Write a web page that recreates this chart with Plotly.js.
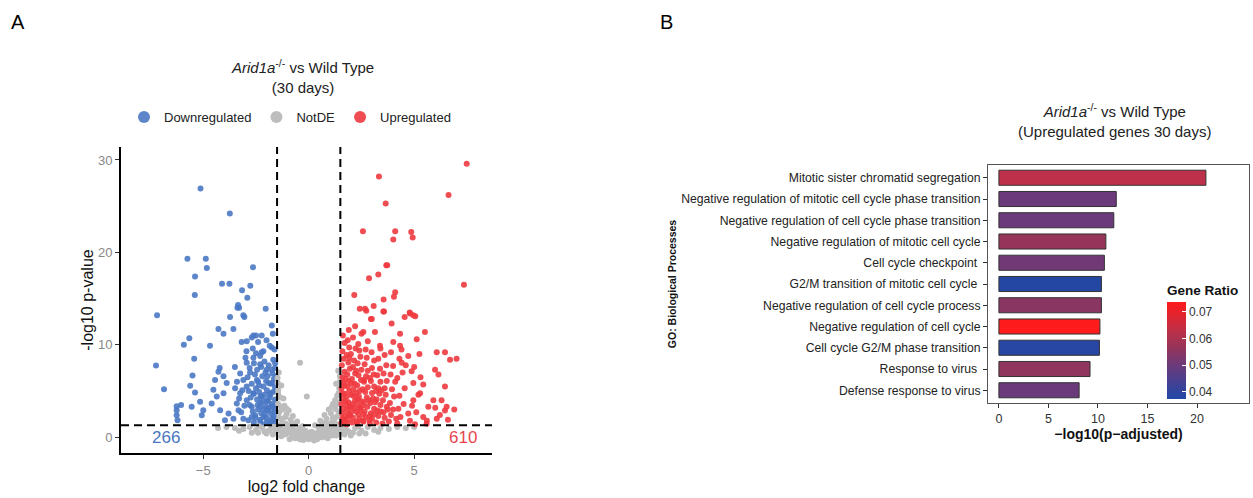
<!DOCTYPE html>
<html>
<head>
<meta charset="utf-8">
<script src="https://cdn.plot.ly/plotly-3.0.1.min.js"></script>
<style>html,body{margin:0;padding:0;background:#fff;}#chart{width:1253px;height:498px;}</style>
</head>
<body>
<div id="chart"></div>
<script>
// ---------- Panel A: volcano plot data ----------
var downX = [-5.13,-3.74,-5.75,-4.88,-4.83,-2.64,-5.39,-4.11,-3.76,-2.77,-3.16,-5.4,-2.91,-3.35,-3.3,-2.04,-7.19,-3.73,-3.05,
  -7.24,-6.86,-6.26,-6.26,-6.26,-6.22,-6.05,-5.92,-5.66,-5.43,-5.51,-5.62,-5.39,-5.55,-5.15,-5.0,-5.07,-4.68,-4.28,-4.04,-3.57,-3.38,-3.1,
  -4.22,-4.28,-4.44,-4.04,-3.89,-4.52,-4.36,-4.04,-4.6,-4.2,-3.8,-3.57,-3.97,-3.33,-3.41,-3.25,-3.49,-3.1,-3.18,-2.94,-2.62,-2.23,-1.75,
  -2.23,-1.75,-2.62,-2.94,-2.3,-1.99,-2.78,-2.46,-1.91,-2.94,-2.62,-2.23,-1.83,-2.94,-2.7,-2.3,-1.99,-1.75,-2.54,-2.15,-1.75,-2.86,-2.3,-1.99,
  -1.6,-1.7,-1.65,-1.8,-1.62,-1.75,-1.6,-1.85,-1.7,-1.6,-1.8,-1.65,-1.72,-1.6,-1.9,-1.68,-1.62,-1.9,-2.0,-1.95,-2.05,-1.92,-2.1,-1.98,-2.15,
  -2.02,-2.2,-2.05,-2.25,-2.1,-2.3,-2.2,-2.3,-2.25,-2.4,-2.3,-2.45,-2.35,-2.5,-2.4,-2.55,-2.45,-2.6,-2.5,-2.65,-2.6,-2.7,-2.65,-2.8,-2.75,
  -2.85,-2.7,-2.9,-2.8,-3.0,-2.95,-3.1,-3.2,-3.05,-3.3,-3.15,-3.4,-3.25,-3.5,-1.55,-1.58,-1.57,-1.56,-1.59,-1.78,-1.88,-2.12,-2.0,-1.75,
  -2.35,-2.15,-1.85,-2.4,-2.0,-2.7,-1.7,-2.5,-1.65,-1.82,-2.08,-2.28,-2.52,-1.95,-2.18,-2.42,-1.72,-2.6];
var downY = [26.9,24.2,19.3,19.3,18.3,18.4,17.4,16.6,16.6,16.4,15.9,15.4,15.1,14.3,14.0,13.9,13.2,13.0,13.0,
  7.77,5.2,3.37,2.93,2.38,1.83,3.5,10.0,10.7,8.5,6.67,5.57,4.84,3.3,3.85,2.93,2.38,9.9,11.7,11.2,11.7,14.0,13.2,
  7.5,7.1,6.2,6.6,5.86,5.13,4.4,4.76,3.66,2.93,2.56,2.0,1.83,2.93,3.66,4.76,5.3,6.2,10.3,10.4,11.0,11.0,12.1,
  9.2,9.7,8.6,8.06,7.9,7.3,7.0,6.2,5.86,5.5,4.76,4.4,4.76,4.0,3.3,3.3,2.93,3.3,2.38,2.2,2.0,1.83,1.65,1.65,
  1.5,1.8,2.3,2.6,3.1,3.6,4.1,4.3,4.9,5.4,5.8,6.3,6.9,7.5,7.8,8.4,9.5,1.6,2.1,2.9,3.4,3.9,4.6,5.1,5.5,
  6.1,6.6,7.0,7.6,8.2,8.8,1.4,1.9,2.6,3.0,3.7,4.1,4.9,5.3,6.0,6.8,7.3,8.0,9.1,9.6,1.6,2.2,2.8,3.5,4.3,
  5.0,5.8,6.5,7.5,8.6,9.3,2.0,2.7,3.4,4.2,5.1,6.0,6.9,7.6,2.0,3.5,5.0,6.6,8.0,1.4,3.2,3.0,4.0,7.3,
  5.6,9.3,9.9,10.3,10.5,10.8,11.2,11.0,2.7,4.6,2.4,4.4,2.1,6.6,3.9,3.5,5.9,4.7];

var notX = [0,0.1,-0.1,0.2,-0.2,0.3,-0.3,0.4,-0.4,0.5,-0.5,0.6,-0.6,0.15,-0.15,0.7,-0.7,0.8,-0.8,0.9,-0.9,1.0,-1.0,1.1,-1.1,1.2,-1.2,
  1.3,-1.3,1.4,-1.4,0.45,-0.45,0.65,-0.65,0.85,-0.85,1.05,-1.05,1.25,-1.25,1.45,-1.45,1.15,-1.15,1.35,-1.35,1.45,-1.45,1.3,-1.3,1.48,-1.48,
  1.4,-1.42,0.95,-0.95,0.75,-0.75,0.55,-0.55,1.25,-1.2,1.4,-1.4,-0.41,-0.09,0.3,-0.3,1.15,-1.1,0.9,-0.9,1.3,-1.3,0.25,-0.25,
  1.6,1.9,2.2,2.5,2.8,3.1,3.4,3.8,4.2,4.6,5.0,1.7,2.0,2.4,-1.6,-1.9,-2.2,-2.5,-2.8,-3.1,-3.5,-3.9,-4.3,-1.7,-2.0,-2.4,1.55,-1.55,
  1.35,-1.35,1.2,-1.2,1.42,-1.45,1.1,-1.05,0.6,-0.6,0.35,-0.35,1.0,-1.0,1.47,-1.47,0.05,-0.05,0.8,-0.8,
  0.05,-0.35,0.55,-0.55,0.75,-0.75,1.1,-1.1,1.35,-1.35,0.2,-0.2,0.45,-0.45,0.95,-0.95,1.2,-1.25,1.45,-1.4,0.65,-0.65,0.85,-0.85,1.0,-1.0,
  1.3,-1.3,0.4,-0.4,1.8,2.1,2.7,3.3,-1.8,-2.1,-2.7,-3.3,1.65,-1.65,2.35,-2.35];
var notY = [-0.2,0.1,0.3,-0.1,0.0,0.4,0.2,0.0,-0.1,0.6,0.5,0.2,0.3,0.6,0.7,0.9,0.8,0.3,0.2,1.2,1.1,0.5,0.6,1.6,1.5,0.9,0.8,
  2.2,2.0,1.4,1.3,1.1,1.0,1.5,1.4,2.0,1.9,2.6,2.5,3.1,3.0,3.8,3.6,3.6,3.4,4.5,4.3,5.3,5.1,5.8,5.6,6.6,6.4,
  7.2,7.0,3.0,2.9,2.4,2.3,1.8,1.7,4.0,4.2,2.8,2.7,8.06,4.4,1.3,1.2,2.1,2.2,-0.1,-0.2,0.2,0.1,-0.35,-0.3,
  0.9,0.6,1.0,0.7,1.1,0.8,1.0,0.9,1.1,1.0,1.1,0.3,0.2,0.4,0.9,0.7,1.0,0.8,1.1,0.9,1.0,1.1,1.0,0.3,0.4,0.5,0.5,0.6,
  1.0,0.9,0.3,0.4,4.8,4.7,3.3,3.1,0.0,-0.1,0.1,0.0,1.4,1.3,6.0,5.9,0.2,0.4,1.6,1.5,
  0.5,0.6,0.1,0.0,0.4,0.5,0.2,0.3,0.6,0.7,0.3,0.2,0.5,0.4,0.6,0.5,1.8,1.6,2.3,2.1,0.0,-0.1,0.8,0.7,1.0,1.1,
  3.5,3.3,-0.2,-0.25,0.8,0.5,0.4,0.6,0.9,0.6,0.5,0.7,1.1,1.15,1.2,1.2];

var upX = [7.49,3.33,6.63,3.65,2.57,4.1,4.86,4.01,4.93,3.68,3.72,3.3,2.86,7.36,2.16,4.1,4.04,3.55,2.42,2.73,3.08,3.57,4.79,4.55,5.05,2.95,
  7.01,6.7,6.46,6.07,4.8,4.96,5.51,5.12,5.99,6.15,6.46,5.91,6.3,6.46,6.22,6.54,5.67,5.28,5.43,4.96,4.88,4.72,4.41,4.01,4.33,3.93,3.54,
  2.99,2.67,2.59,3.14,3.38,4.33,4.96,4.72,5.43,5.59,6.07,5.04,
  1.55,1.6,1.58,1.65,1.55,1.62,1.7,1.56,1.64,1.6,1.7,1.57,1.66,1.6,1.7,1.62,
  1.8,1.85,1.9,1.82,1.95,1.88,1.8,1.92,1.85,1.9,1.83,1.95,1.88,1.8,1.92,1.85,1.9,
  2.05,2.1,2.0,2.15,2.08,2.2,2.02,2.12,2.18,2.05,2.2,2.1,2.15,2.0,2.22,2.1,2.2,
  2.3,2.4,2.35,2.45,2.3,2.5,2.38,2.42,2.3,2.48,2.36,2.5,2.32,2.45,2.4,2.35,2.5,
  2.6,2.7,2.65,2.78,2.62,2.75,2.68,2.8,2.62,2.72,2.8,2.65,2.75,2.7,2.8,
  2.9,3.0,2.95,3.1,2.92,3.05,3.0,3.1,2.95,3.08,3.0,3.1,2.98,
  3.2,3.3,3.25,3.4,3.22,3.35,3.3,3.4,3.25,3.38,3.3,3.4,
  3.5,3.6,3.55,3.7,3.52,3.65,3.6,3.7,3.55,3.68,3.6,
  3.8,3.9,4.0,3.85,4.05,3.95,4.1,3.88,4.0,3.9,
  4.2,4.35,4.25,4.5,4.3,4.55,4.2,4.45,4.6,4.3,
  4.8,5.1,4.9,5.2,5.3,5.0,5.25,
  1.75,2.25,2.55,1.75,2.25,2.85,1.7,2.55,2.9,2.25,1.75,3.15,2.0,2.55,3.4,1.7,2.9,3.2,
  1.68,1.97,2.28,2.58,1.78,2.12,2.43,2.88,3.12,1.58,2.02,2.33,1.92,2.62,3.45,3.75,4.15,4.4,5.6,6.0,6.6,6.9];
var upY = [29.6,28.2,26.2,25.3,22.3,22.3,22.2,21.4,21.6,18.6,18.6,17.6,17.2,16.5,15.4,15.7,15.2,14.9,13.9,13.7,14.2,13.6,13.5,13.0,13.1,12.8,
  8.5,8.4,9.2,9.2,13.4,13.2,11.4,10.6,7.3,6.8,5.5,4.0,4.0,2.9,2.4,3.3,3.3,4.76,5.7,5.86,7.14,8.8,8.06,10.3,11.2,12.3,13.6,
  12.8,13.9,11.4,11.4,9.9,9.9,4.0,2.56,2.2,1.47,2.0,1.4,
  1.5,2.0,2.6,3.1,3.6,4.2,4.7,5.3,5.9,6.5,7.1,7.8,8.5,9.3,10.2,11.0,
  1.4,1.9,2.4,2.9,3.3,3.8,4.4,5.0,5.5,6.1,6.8,7.4,8.1,8.9,9.7,10.5,11.6,
  1.6,2.1,2.7,3.1,3.6,4.0,4.6,5.2,5.8,6.3,6.9,7.6,8.3,9.0,9.6,10.8,12.0,
  1.5,2.0,2.5,3.0,3.5,3.9,4.4,5.0,5.6,6.2,6.7,7.3,8.0,8.7,9.4,10.1,11.2,
  1.7,2.2,2.8,3.3,3.8,4.3,4.9,5.4,6.0,6.6,7.2,7.9,8.6,9.5,10.4,
  1.5,2.0,2.6,3.1,3.7,4.2,4.8,5.5,6.1,6.8,7.5,8.3,9.2,
  1.6,2.3,2.9,3.5,4.1,4.7,5.3,6.0,6.7,7.4,8.5,9.6,
  1.5,2.1,2.7,3.3,4.0,4.6,5.3,6.1,6.9,7.8,8.9,
  1.7,2.4,3.0,3.7,4.4,5.2,6.0,6.8,7.7,9.2,
  1.5,2.2,3.1,3.6,4.5,5.3,6.4,7.0,7.8,8.5,
  1.8,2.7,3.4,4.6,6.5,7.6,9.0,
  2.3,2.8,3.4,3.9,4.8,4.0,5.6,5.2,6.4,7.2,6.3,3.8,3.3,1.8,2.8,1.7,2.3,5.0,
  1.9,2.4,1.7,2.5,3.5,4.5,3.2,1.9,2.5,4.8,5.8,4.1,8.6,6.2,5.1,3.0,2.0,9.5,1.8,3.2,1.9,3.0];

var downCount = "266", upCount = "610";

// ---------- Panel B: GO enrichment data ----------
var goTerms = ["Mitotic sister chromatid segregation",
  "Negative regulation of mitotic cell cycle phase transition",
  "Negative regulation of cell cycle phase transition",
  "Negative regulation of mitotic cell cycle",
  "Cell cycle checkpoint ",
  "G2/M transition of mitotic cell cycle ",
  "Negative regulation of cell cycle process",
  "Negative regulation of cell cycle",
  "Cell cycle G2/M phase transition",
  "Response to virus ",
  "Defense response to virus"];
var negLogPadj = [20.9, 11.85, 11.6, 10.8, 10.65, 10.35, 10.35, 10.2, 10.15, 9.2, 8.1];
var geneRatio  = [0.063, 0.050, 0.050, 0.057, 0.051, 0.0385, 0.055, 0.0735, 0.039, 0.056, 0.050];
var ratioTicks = [0.04, 0.05, 0.06, 0.07];

var FONT = "Liberation Sans, Arial, sans-serif";
var W = 1253, H = 498;
function px(x){return x/W;}
function py(y){return (H-y)/H;}

var traces = [
  {type:"scatter", mode:"markers", name:"Downregulated", x:downX, y:downY, xaxis:"x", yaxis:"y",
   marker:{color:"#4a78c4", size:6, opacity:0.9}},
  {type:"scatter", mode:"markers", name:"NotDE", x:notX, y:notY, xaxis:"x", yaxis:"y",
   marker:{color:"#bdbdbd", size:6}},
  {type:"scatter", mode:"markers", name:"Upregulated", x:upX, y:upY, xaxis:"x", yaxis:"y",
   marker:{color:"#ee3a3f", size:6, opacity:0.9}},
  {type:"bar", orientation:"h", x:negLogPadj, y:goTerms, xaxis:"x2", yaxis:"y2", width:0.71, showlegend:false,
   marker:{color:geneRatio, cmin:0.0375, cmax:0.0738,
     colorscale:[[0,"#1f48a8"],[0.34,"#6a3a7c"],[0.54,"#973458"],[0.70,"#bd3049"],[1,"#ff1a1a"]],
     line:{color:"#333", width:1},
     colorbar:{x:px(1167), xanchor:"left", y:py(340), yanchor:"middle", lenmode:"pixels", len:117,
       thicknessmode:"pixels", thickness:19, xpad:0, ypad:0, outlinewidth:0,
       tickvals:ratioTicks, ticktext:["0.04","0.05","0.06","0.07"], ticks:"inside", tickcolor:"#fff", ticklen:4,
       tickfont:{family:FONT, size:12, color:"#333"},
       title:{text:"<b>Gene Ratio</b>", side:"top", font:{family:FONT, size:13.5, color:"#111"}}}}}
];

var axA = {showgrid:false, zeroline:false, showline:true, linecolor:"#000", linewidth:2, ticks:"outside",
  ticklen:4, tickcolor:"#333", tickfont:{family:FONT, size:13, color:"#888"}};

var layout = {
  width:W, height:H, margin:{l:0,r:0,t:0,b:0}, paper_bgcolor:"#fff", plot_bgcolor:"#fff",
  font:{family:FONT, color:"#222"},
  showlegend:true,
  legend:{orientation:"h", x:px(290), xanchor:"center", y:py(117), yanchor:"middle",
    font:{family:FONT, size:13, color:"#222"}, itemwidth:30, itemsizing:"constant", tracegroupgap:0,
    bgcolor:"rgba(0,0,0,0)"},
  xaxis:Object.assign({}, axA, {domain:[px(121), px(492)], range:[-8.9, 8.69], anchor:"y",
    tickvals:[-5,0,5], ticktext:["\u22125","0","5"],
    title:{text:"log2 fold change", font:{family:FONT, size:16, color:"#111"}, standoff:4}}),
  yaxis:Object.assign({}, axA, {domain:[py(453), py(147)], range:[-1.7, 31.4], anchor:"x",
    tickvals:[0,10,20,30],
    title:{text:"-log10 p-value", font:{family:FONT, size:16, color:"#111"}, standoff:0}}),
  xaxis2:{domain:[px(988), px(1249)], range:[-1.1, 25.25], anchor:"y2", showgrid:false, zeroline:false,
    showline:true, mirror:true, linecolor:"#555", linewidth:1, ticks:"outside", ticklen:4, tickcolor:"#333",
    tickvals:[0,5,10,15,20], tickfont:{family:FONT, size:12.5, color:"#333"},
    title:{text:"<b>\u2212log10(p\u2212adjusted)</b>", font:{family:FONT, size:14, color:"#111"}, standoff:3}},
  yaxis2:{domain:[py(403), py(165)], type:"category", categoryorder:"array", categoryarray:goTerms,
    range:[10.6, -0.6], anchor:"x2", showgrid:false, zeroline:false,
    showline:true, mirror:true, linecolor:"#555", linewidth:1, ticks:"outside", ticklen:4, tickcolor:"#333",
    tickfont:{family:FONT, size:12.2, color:"#222"},
    title:{text:"<b>GO: Biological Processes</b>", font:{family:FONT, size:10.5, color:"#111"}, standoff:2}},
  shapes:[
    {type:"line", xref:"x", yref:"y domain", x0:-1.5, x1:-1.5, y0:0, y1:1, line:{color:"#000", width:2, dash:"8px,5px"}},
    {type:"line", xref:"x", yref:"y domain", x0:1.5, x1:1.5, y0:0, y1:1, line:{color:"#000", width:2, dash:"8px,5px"}},
    {type:"line", xref:"x domain", yref:"y", x0:0, x1:1, y0:1.3, y1:1.3, line:{color:"#000", width:2, dash:"8px,5px"}}
  ],
  annotations:[
    {text:"A", xref:"paper", yref:"paper", x:px(18), y:py(22), xanchor:"center", yanchor:"middle", showarrow:false, font:{family:FONT, size:20, color:"#000"}},
    {text:"B", xref:"paper", yref:"paper", x:px(667), y:py(22), xanchor:"center", yanchor:"middle", showarrow:false, font:{family:FONT, size:20, color:"#000"}},
    {text:"<i>Arid1a</i><sup>-/-</sup> vs Wild Type<br>(30 days)", xref:"paper", yref:"paper", x:px(302), y:py(76),
     xanchor:"center", yanchor:"middle", showarrow:false, font:{family:FONT, size:15, color:"#222"}},
    {text:"<i>Arid1a</i><sup>-/-</sup> vs Wild Type<br>(Upregulated genes 30 days)", xref:"paper", yref:"paper",
     x:px(1114), y:py(120), xanchor:"center", yanchor:"middle", showarrow:false, font:{family:FONT, size:15, color:"#222"}},
    {text:downCount, xref:"x", yref:"y", x:-6.75, y:0, xanchor:"center", yanchor:"middle", showarrow:false, font:{family:FONT, size:17, color:"#4a76c0"}},
    {text:upCount, xref:"x", yref:"y", x:7.3, y:0, xanchor:"center", yanchor:"middle", showarrow:false, font:{family:FONT, size:17, color:"#e8464c"}}
  ]
};

Plotly.newPlot("chart", traces, layout, {displayModeBar:false, staticPlot:true});
</script>
</body>
</html>
